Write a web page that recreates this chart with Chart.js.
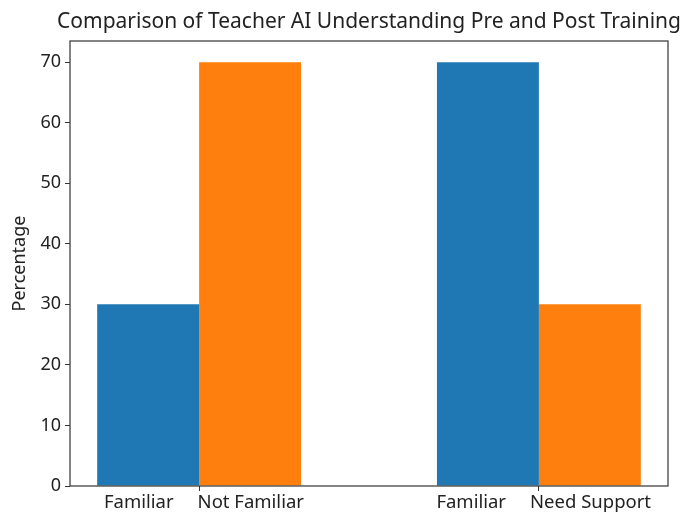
<!DOCTYPE html>
<html>
<head>
<meta charset="utf-8">
<script src="https://cdn.jsdelivr.net/npm/chart.js@4"></script>
<style>
  body { margin: 0; background: #fff; }
  #wrap { width: 683px; height: 513px; }
</style>
</head>
<body>
<div id="wrap"><canvas id="grafico" width="683" height="513"></canvas></div>
<script>
// dados do grafico
const grupos = [0, 1];
const rotulosPre = ['Familiar', 'Not Familiar'];
const rotulosPos = ['Familiar', 'Need Support'];
const serieAzul = [30, 70];
const serieLaranja = [70, 30];
const ticksY = [0, 10, 20, 30, 40, 50, 60, 70];
const titulo = 'Comparison of Teacher AI Understanding Pre and Post Training';

const sep = '     ';
const rotulosX = ['  ' + rotulosPre.join(sep), '  ' + rotulosPos.join(sep)];

const fonte = 'Noto Sans';

// moldura do eixo + titulo centrado na area do grafico (estilo matplotlib)
const moldura = {
  id: 'moldura',
  afterDatasetsDraw(chart) {
    const { ctx, chartArea: a } = chart;
    ctx.save();
    ctx.strokeStyle = '#333';
    ctx.lineWidth = 1.2;
    ctx.strokeRect(a.left, a.top, a.right - a.left, a.bottom - a.top);
    ctx.fillStyle = '#222';
    ctx.font = '21px "' + fonte + '"';
    ctx.textAlign = 'center';
    ctx.textBaseline = 'middle';
    ctx.fillText(titulo, (a.left + a.right) / 2, 22);
    ctx.restore();
  }
};

new Chart(document.getElementById('grafico').getContext('2d'), {
  type: 'bar',
  data: {
    datasets: [
      {
        label: 'Pre',
        data: grupos.map((g, i) => ({ x: g, y: serieAzul[i] })),
        backgroundColor: '#1f77b4'
      },
      {
        label: 'Post',
        data: grupos.map((g, i) => ({ x: g, y: serieLaranja[i] })),
        backgroundColor: '#ff7f0e'
      }
    ]
  },
  options: {
    responsive: false,
    animation: false,
    devicePixelRatio: 1,
    categoryPercentage: 0.6,
    barPercentage: 1,
    layout: { padding: { left: 0, right: 15, top: 41, bottom: 0 } },
    plugins: {
      legend: { display: false },
      tooltip: { enabled: false },
      title: { display: false }
    },
    scales: {
      x: {
        type: 'linear',
        offset: false,
        min: -0.38,
        max: 1.38,
        afterBuildTicks: s => { s.ticks = grupos.map(v => ({ value: v })); },
        afterFit: s => { s.height = 27; },
        ticks: {
          autoSkip: false,
          maxRotation: 0,
          padding: 1,
          color: '#222',
          font: { family: fonte, size: 18.5 },
          callback: (v, i) => rotulosX[i]
        },
        grid: { offset: false, drawOnChartArea: false, tickLength: 5, tickColor: '#333' },
        border: { display: false }
      },
      y: {
        min: 0,
        max: 73.5,
        afterBuildTicks: s => { s.ticks = ticksY.map(v => ({ value: v })); },
        afterFit: s => { s.width = 70; },
        ticks: {
          padding: 4,
          color: '#222',
          font: { family: fonte, size: 18 }
        },
        grid: { drawOnChartArea: false, tickLength: 5, tickColor: '#333' },
        border: { display: false },
        title: {
          display: true,
          text: 'Percentage',
          color: '#222',
          font: { family: fonte, size: 18 },
          padding: { top: 9, bottom: 0 }
        }
      }
    }
  },
  plugins: [moldura]
});
</script>
</body>
</html>
